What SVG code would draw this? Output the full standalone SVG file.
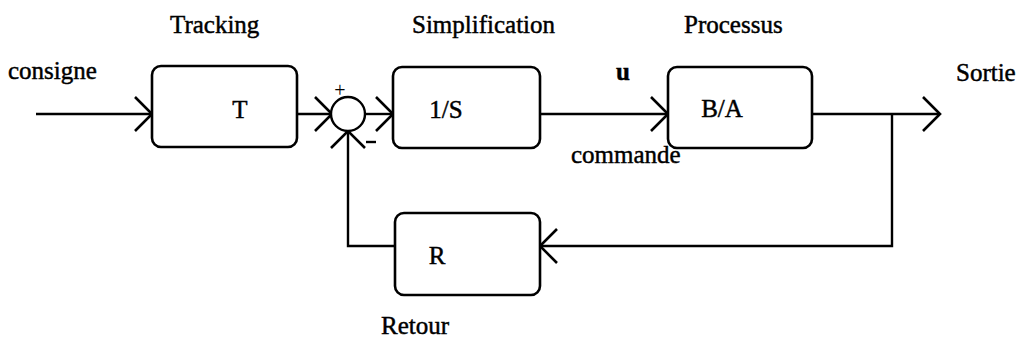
<svg xmlns="http://www.w3.org/2000/svg" width="1022" height="345" viewBox="0 0 1022 345">
  <style>
    .box { fill: #fff; stroke: #000; stroke-width: 2.6; }
    .wire { fill: none; stroke: #000; stroke-width: 2.4; }
    .lbl { font-family: "Liberation Serif", "Times New Roman", serif; font-size: 25px; fill: #000; stroke: #000; stroke-width: 0.45; }
    .blk { font-family: "Liberation Serif", "Times New Roman", serif; font-size: 25px; fill: #000; stroke: #000; stroke-width: 0.45; text-anchor: middle; }
  </style>
  <defs>
    <!-- open chevron arrowhead, tip at the line end -->
    <marker id="chev" viewBox="-20 -20 24 40" refX="0" refY="0" markerWidth="24" markerHeight="40" orient="auto" markerUnits="userSpaceOnUse">
      <path d="M-17,-17 L0,0 L-17,17" fill="none" stroke="#000" stroke-width="2.6"/>
    </marker>
  </defs>

  <rect width="1022" height="345" fill="#fff"/>

  <!-- connectors -->
  <g id="connectors">
    <path class="wire" d="M36,114 H152" marker-end="url(#chev)"/>
    <path class="wire" d="M297,114 H332" marker-end="url(#chev)"/>
    <path class="wire" d="M365,114 H393" marker-end="url(#chev)"/>
    <path class="wire" d="M540,114 H668" marker-end="url(#chev)"/>
    <path class="wire" d="M812,114 H940" marker-end="url(#chev)"/>
    <path class="wire" d="M892,114 V246 H540" marker-end="url(#chev)"/>
    <path class="wire" d="M395,246 H348 V131" marker-end="url(#chev)"/>
  </g>

  <!-- summing junction -->
  <g id="sum">
    <circle cx="348" cy="114" r="17" fill="#fff" stroke="#000" stroke-width="2.4"/>
    <text x="340" y="97" text-anchor="middle" font-family="Liberation Serif, serif" font-size="20" fill="#000">+</text>
    <path d="M366,142 H376" stroke="#000" stroke-width="2.4"/>
  </g>

  <g id="tracking">
    <rect class="box" x="152" y="66" width="145" height="81" rx="9"/>
    <text class="blk" x="240" y="118">T</text>
    <text class="lbl" x="170" y="33">Tracking</text>
  </g>

  <g id="simplification">
    <rect class="box" x="393" y="67" width="147" height="81" rx="9"/>
    <text class="blk" x="446" y="118">1/S</text>
    <text class="lbl" x="412" y="33">Simplification</text>
  </g>

  <g id="processus">
    <rect class="box" x="668" y="67" width="144" height="81" rx="9"/>
    <text class="blk" x="722" y="117">B/A</text>
    <text class="lbl" x="684" y="33">Processus</text>
  </g>

  <g id="retour">
    <rect class="box" x="395" y="213" width="145" height="82" rx="9"/>
    <text class="blk" x="437" y="264">R</text>
    <text class="lbl" x="381" y="334">Retour</text>
  </g>

  <g id="signals">
    <text class="lbl" x="8" y="79">consigne</text>
    <text class="lbl" x="616" y="80" font-weight="bold">u</text>
    <text class="lbl" x="571" y="163">commande</text>
    <text class="lbl" x="956" y="81">Sortie</text>
  </g>
</svg>
